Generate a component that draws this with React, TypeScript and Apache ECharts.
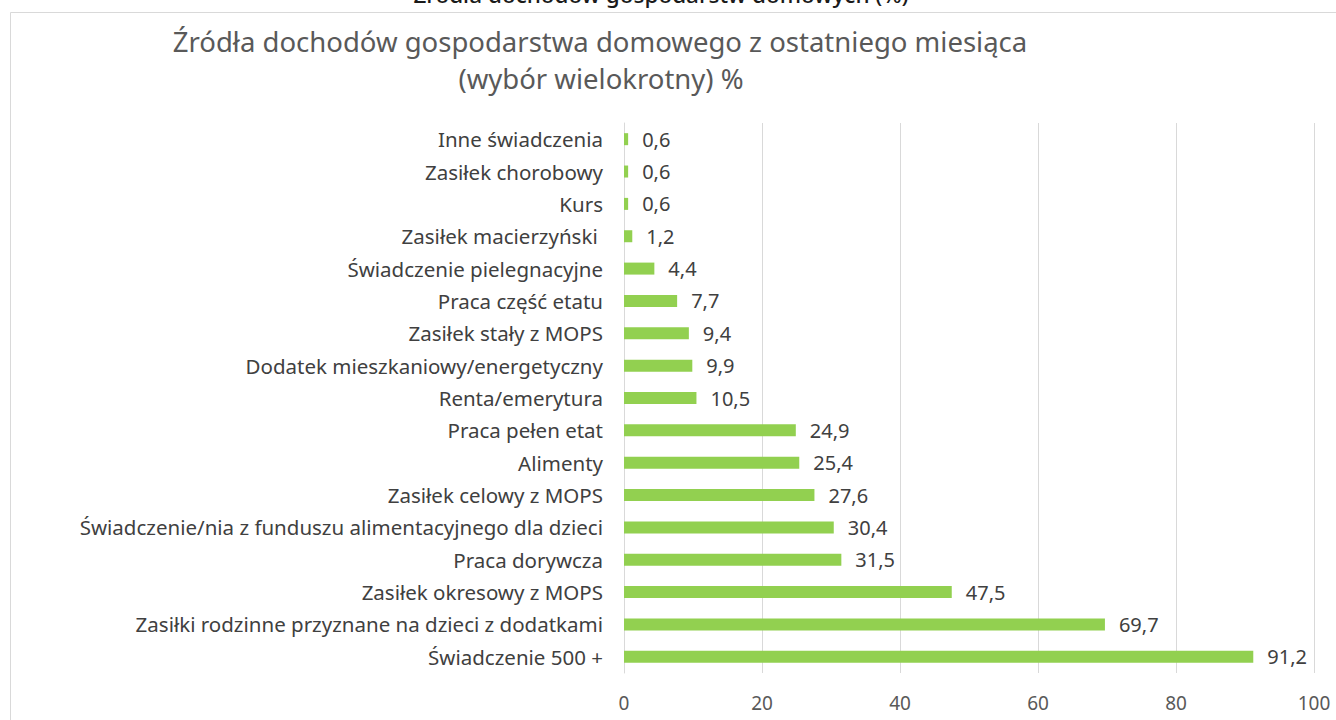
import React, { useEffect, useRef } from "react";
import * as echarts from "echarts";

const categories = [
  "Inne świadczenia",
  "Zasiłek chorobowy",
  "Kurs",
  "Zasiłek macierzyński ",
  "Świadczenie pielegnacyjne",
  "Praca część etatu",
  "Zasiłek stały z MOPS",
  "Dodatek mieszkaniowy/energetyczny",
  "Renta/emerytura",
  "Praca pełen etat",
  "Alimenty",
  "Zasiłek celowy z MOPS",
  "Świadczenie/nia z funduszu alimentacyjnego dla dzieci",
  "Praca dorywcza",
  "Zasiłek okresowy z MOPS",
  "Zasiłki rodzinne przyznane na dzieci z dodatkami",
  "Świadczenie 500 +",
];
const values = [0.6, 0.6, 0.6, 1.2, 4.4, 7.7, 9.4, 9.9, 10.5, 24.9, 25.4, 27.6, 30.4, 31.5, 47.5, 69.7, 91.2];
const xTicks = { min: 0, max: 100, interval: 20 };
const titleLines = ["Źródła dochodów gospodarstwa domowego z ostatniego miesiąca", "(wybór wielokrotny) %"];
const outerTitle = "Źródła dochodów gospodarstw domowych (%)";

const FONT = "'Noto Sans', 'Open Sans', sans-serif";

export default function App() {
  const ref = useRef<HTMLDivElement>(null);
  useEffect(() => {
    document.body.style.margin = "0";
    const chart = echarts.init(ref.current!, undefined, { renderer: "svg" });
    chart.setOption({
      animation: false,
      backgroundColor: "#ffffff",
      textStyle: { fontFamily: FONT },
      graphic: [
        {
          type: "rect",
          shape: { x: 10.5, y: 12.5, width: 1400, height: 800 },
          style: { fill: "none", stroke: "#d9d9d9", lineWidth: 1 },
          silent: true,
        },
        {
          type: "text",
          x: 661,
          y: 6,
          style: {
            text: outerTitle,
            fontFamily: FONT,
            fontSize: 22.5,
            fontWeight: 500,
            fill: "#1a1a1a",
            align: "center",
            verticalAlign: "bottom",
          },
        },
        {
          type: "text",
          x: 600,
          y: 41,
          style: {
            text: titleLines[0],
            fontFamily: FONT,
            fontSize: 27.5,
            fill: "#595959",
            align: "center",
            verticalAlign: "middle",
          },
        },
        {
          type: "text",
          x: 601,
          y: 78,
          style: {
            text: titleLines[1],
            fontFamily: FONT,
            fontSize: 27.5,
            fill: "#595959",
            align: "center",
            verticalAlign: "middle",
          },
        },
      ],
      grid: { left: 624, right: 22, top: 123, bottom: 47, containLabel: false },
      xAxis: {
        type: "value",
        min: xTicks.min,
        max: xTicks.max,
        interval: xTicks.interval,
        axisLine: { show: false },
        axisTick: { show: false },
        splitLine: { show: true, lineStyle: { color: "#d9d9d9", width: 1 } },
        axisLabel: { fontSize: 19, color: "#595959", margin: 20, fontFamily: FONT },
      },
      yAxis: {
        type: "category",
        inverse: true,
        data: categories,
        axisLine: { show: true, lineStyle: { color: "#d9d9d9", width: 1 } },
        axisTick: { show: false },
        axisLabel: { fontSize: 20.5, color: "#404040", margin: 21, fontFamily: FONT },
      },
      series: [
        {
          type: "bar",
          data: values,
          barWidth: 12,
          itemStyle: { color: "#92d050" },
          label: {
            show: true,
            position: "right",
            distance: 14,
            fontSize: 20,
            color: "#404040",
            fontFamily: FONT,
            formatter: (p: any) => String(p.value).replace(".", ","),
          },
        },
      ],
    });
    return () => chart.dispose();
  }, []);
  return <div ref={ref} style={{ width: 1336, height: 720 }} />;
}
